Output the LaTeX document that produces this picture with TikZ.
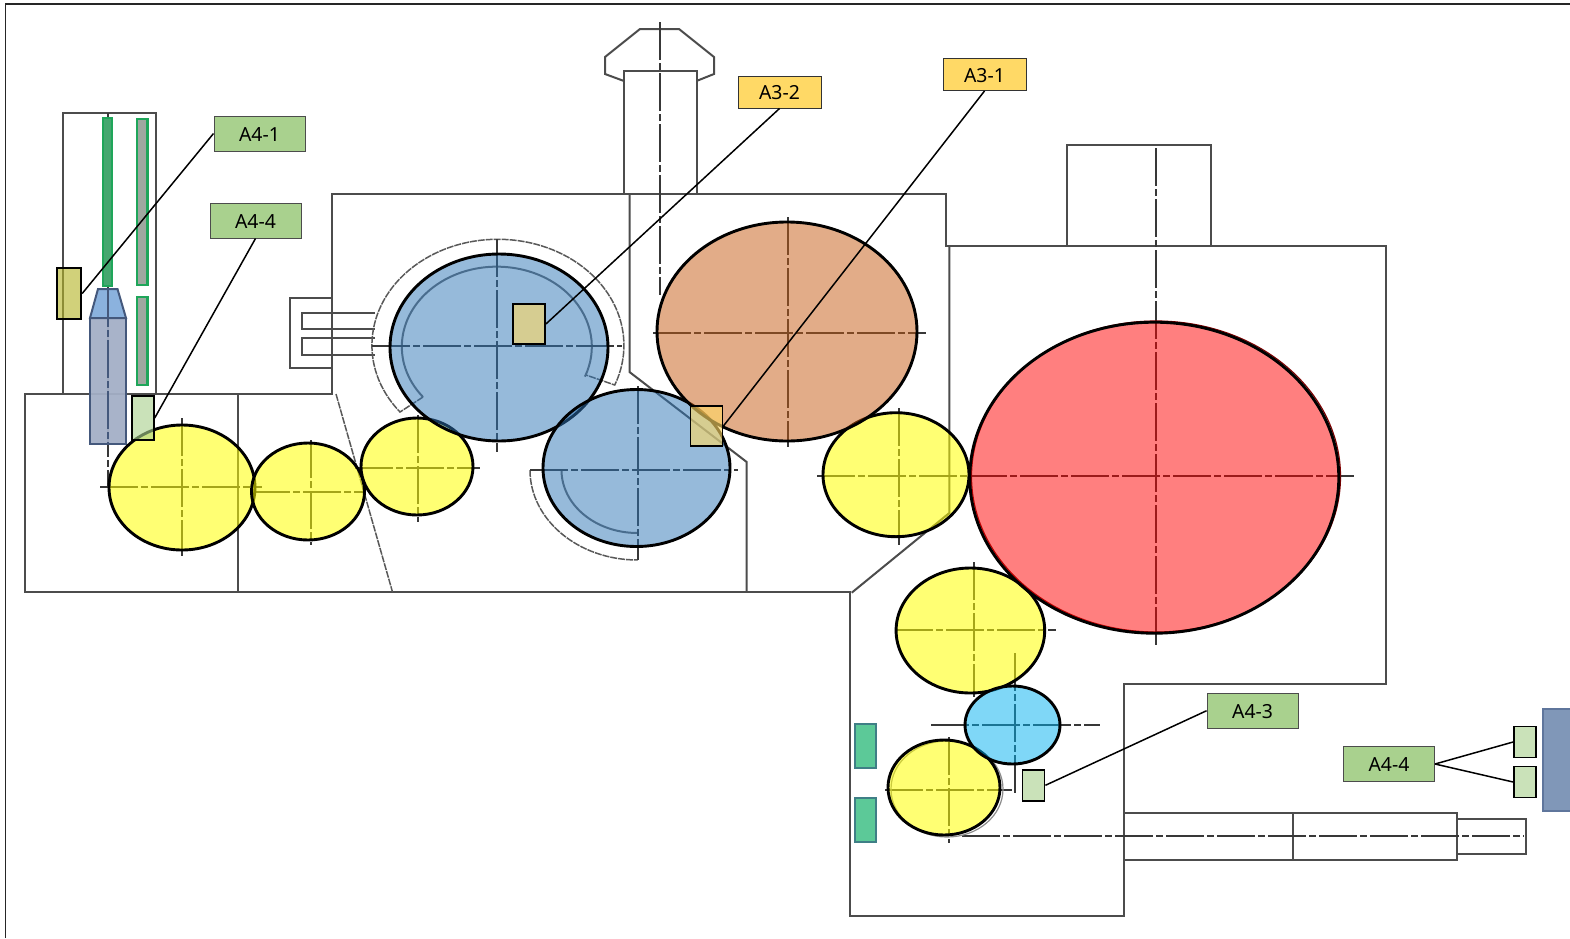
\documentclass[tikz,border=0pt]{standalone}
\usepackage{fontspec}
\setmainfont{Noto Sans}
\usetikzlibrary{positioning}
\definecolor{tagGreen}{HTML}{A9D18E}
\definecolor{tagAmber}{HTML}{FFD966}
\definecolor{padEdge}{HTML}{3F7F86}
\definecolor{padFill}{HTML}{5CC998}
\definecolor{stripEdge}{HTML}{1FA65A}
\definecolor{stripFill}{HTML}{9FA8A0}
\definecolor{lanceFill}{HTML}{A3AFC6}
\definecolor{lanceEdge}{HTML}{44587C}
\definecolor{tipFill}{HTML}{85AEDC}
\definecolor{slabFill}{HTML}{8097B8}
\definecolor{slabEdge}{HTML}{5F769C}
\definecolor{rollYellow}{HTML}{FFFF00}
\definecolor{rollBlue}{HTML}{2E75B6}
\definecolor{rollBrown}{HTML}{C55A11}
\definecolor{rollRed}{HTML}{FF0000}
\definecolor{rollCyan}{HTML}{00B0F0}
\tikzstyle{wall} = [draw=black!70, line width=1pt]
\tikzstyle{thinwall} = [draw=black!65, line width=0.75pt, dash pattern=on 3.5pt off 0.5pt]
\tikzstyle{centre} = [draw=black!78, line width=1pt, dash pattern=on 19pt off 1.5pt on 3.5pt off 1.5pt]
\tikzstyle{roll} = [draw=black, line width=1.45pt, fill opacity=0.5]
\tikzstyle{yellowroll} = [roll, fill=rollYellow, fill opacity=0.55]
\tikzstyle{ghost} = [draw=black!45, line width=0.6pt]
\tikzstyle{tag} = [draw=black!70, line width=0.5pt, inner sep=0pt, minimum width=45.5pt, minimum height=17.5pt, text height=7.9pt, fill=tagGreen, font=\fontsize{9.7pt}{10pt}\selectfont]
\tikzstyle{amber} = [tag, fill=tagAmber, draw=black!80, minimum width=41.5pt, minimum height=16pt]
\tikzstyle{sensor} = [draw=black, line width=0.9pt, inner sep=0pt, fill opacity=0.62]
\tikzstyle{pad} = [draw=padEdge, line width=0.9pt, fill=padFill, inner sep=0pt, minimum width=10.5pt, minimum height=22pt]
\tikzstyle{strip} = [draw=stripEdge, line width=1.2pt, fill=stripFill]
\tikzstyle{leader} = [draw=black, line width=0.75pt]

\begin{document}
\begin{tikzpicture}[x=0.5pt, y=-0.5pt]
    \useasboundingbox (0,0) rectangle (1570,938);

    % Page frame
    \draw [line width=0.8pt, black!85] (5.5,938) -- (5.5,4) -- (1570,4);

    % Machine outline
    \draw [wall] (63,394) -- (63,113) -- (155.5,113) -- (155.5,394);
    \draw [wall] (25.3,394) -- (331.7,394) -- (331.7,194) -- (946,194) -- (946,246) -- (1385.5,246)
        -- (1385.5,683.5) -- (1123.5,683.5) -- (1123.5,916) -- (849.8,916) -- (849.8,592) -- (25.3,592) -- cycle;
    \draw [wall] (238.3,394) -- (238.3,592);
    \draw [thinwall] (336,394) -- (392.5,592);
    \draw [wall] (629.5,194) -- (629.5,372) -- (746.7,462) -- (746.7,592);
    \draw [wall] (949.3,246) -- (949.3,513) -- (851.7,592.7);
    \draw [wall] (331.7,298) -- (290,298) -- (290,368) -- (331.7,368);
    \draw [wall] (375,312.5) -- (301.5,312.5) -- (301.5,329) -- (375,329);
    \draw [wall] (375,338) -- (301.5,338) -- (301.5,355) -- (375,355);

    % Top fittings
    \draw [wall] (624,194) -- (624,70.5) -- (696.5,70.5) -- (696.5,194);
    \draw [wall] (624,81) -- (605,74) -- (605,57) -- (640,29) -- (679,29) -- (714,57) -- (714,74) -- (696.5,81);
    \draw [wall] (1067.4,246) -- (1067.4,145) -- (1210.5,145) -- (1210.5,246);

    % Shaft
    \draw [wall] (1123.5,812.5) -- (1456.7,812.5) -- (1456.7,860) -- (1123.5,860);
    \draw [wall] (1293,812.5) -- (1293,860);
    \draw [wall] (1456.7,818.5) -- (1526,818.5) -- (1526,853.5) -- (1456.7,853.5);

    % Guards round the blue rolls
    \draw [thinwall] (423,397) -- (400,412)
        arc [start angle=141, end angle=382, x radius=126, y radius=106] -- (586,375);
    \draw [wall, black!60] (423,397) arc [start angle=141, end angle=382, x radius=95, y radius=80];
    \draw [thinwall] (530,470) arc [start angle=180, end angle=90, x radius=107.7, y radius=90];
    \draw [wall, black!60] (561.5,470) arc [start angle=180, end angle=90, x radius=76, y radius=63];

    % Centre lines
    \draw [centre] (660,22) -- (660,295);
    \draw [centre] (1156,148) -- (1156,645);
    \draw [centre] (100,487) -- (262,487);
    \draw [centre] (182,418) -- (182,556);
    \draw [centre] (252,491.5) -- (364,491.5);
    \draw [centre] (310.5,440) -- (310.5,545);
    \draw [centre] (355,467.5) -- (480,467.5);
    \draw [centre] (418,415) -- (418,522);
    \draw [centre] (372,346) -- (622,346);
    \draw [centre] (497,239) -- (497,452);
    \draw [centre] (530,470) -- (738,470);
    \draw [centre] (638,386) -- (638,560);
    \draw [centre] (653,333.3) -- (926,333.3);
    \draw [centre] (788,217) -- (788,447);
    \draw [centre] (817,476) -- (969,476);
    \draw [centre] (898.7,408) -- (898.7,545);
    \draw [centre] (969,476) -- (1354,476);
    \draw [centre] (895,630) -- (1055.6,630);
    \draw [centre] (974,562) -- (974,697);
    \draw [centre] (931,725) -- (1100,725);
    \draw [centre] (1015,653) -- (1015,795);
    \draw [centre] (885,790) -- (1011.7,790);
    \draw [centre] (949.3,737) -- (949.3,843);
    \draw [centre] (962,836) -- (1523.7,836);
    \draw [ghost] (947,789) ellipse [x radius=56, y radius=48];
    \draw [ghost, rollRed!50!black] (1156,476.5) ellipse [x radius=184.5, y radius=155.5];

    % Lance and strips
    \draw [centre] (108,113) -- (108,487);
    \draw [strip, fill=stripEdge!70!stripFill] (103,118) rectangle (112,286);
    \draw [strip] (137,119) rectangle (147.5,285);
    \draw [strip] (137,297) rectangle (147.5,385);
    \draw [draw=lanceEdge, line width=1pt, fill=lanceFill, fill opacity=0.95] (90,318) rectangle (126,444);
    \draw [draw=lanceEdge, line width=1pt, fill=tipFill, fill opacity=0.95] (90,318) -- (98,289) -- (117.5,289) -- (126,318) -- cycle;
    \draw [centre, lanceEdge] (108,289) -- (108,444);

    % Rolls
    \draw [yellowroll] (182,487.5) ellipse [x radius=73, y radius=62.5];
    \draw [yellowroll] (308,491.5) ellipse [x radius=56.5, y radius=48.5];
    \draw [yellowroll] (417,466.5) ellipse [x radius=56, y radius=48.5];
    \draw [yellowroll] (896,474.7) ellipse [x radius=73, y radius=62];
    \draw [yellowroll] (970.4,630.5) ellipse [x radius=74.3, y radius=62.5];
    \draw [yellowroll] (944,787.5) ellipse [x radius=56, y radius=47.5];
    \draw [roll, fill=rollBlue] (499,347.5) ellipse [x radius=109, y radius=93.5];
    \draw [roll, fill=rollBlue] (636.5,468) ellipse [x radius=93.5, y radius=78.5];
    \draw [roll, fill=rollBrown] (787,331.5) ellipse [x radius=130, y radius=109.5];
    \draw [roll, fill=rollRed] (1154.3,477.7) ellipse [x radius=184.5, y radius=155.5];
    \draw [roll, fill=rollCyan] (1012.5,725) ellipse [x radius=47.5, y radius=39];

    % Place the pads and the slab
    \node [pad] (padup) at (865.5,746.3) {};
    \node [pad] (paddown) at (865.5,819.8) {};
    \draw [draw=slabEdge, line width=1pt, fill=slabFill] (1542.6,709) rectangle (1575,810.7);

    % Place the sensors
    \node [sensor, fill={rgb,255:red,180;green,180;blue,40}, minimum width=12pt, minimum height=25.5pt] (sone) at (69.3,293.5) {};
    \node [sensor, fill=tagGreen, minimum width=11pt, minimum height=22pt] (sfour) at (142.8,418) {};
    \node [sensor, fill=tagAmber, minimum width=16pt, minimum height=20pt] (stwo) at (529,324) {};
    \node [sensor, fill=tagAmber, minimum width=16pt, minimum height=20pt] (sthree) at (706.5,426) {};
    \node [sensor, fill=tagGreen, minimum width=11pt, minimum height=15.5pt] (sfive) at (1033.5,785.3) {};
    \node [sensor, fill=tagGreen, minimum width=11pt, minimum height=15.5pt] (ssix) at (1525,742) {};
    \node [sensor, fill=tagGreen, minimum width=11pt, minimum height=15.5pt] (sseven) at (1525,782) {};

    % Place the tags
    \node [tag] (tagone) at (259.5,133.5) {A4-1};
    \node [tag] (tagfour) at (255.5,220.5) {A4-4};
    \node [amber] (tagtwo) at (779.5,92) {A3-2};
    \node [amber] (tagthree) at (984.5,74.5) {A3-1};
    \node [tag] (tagfive) at (1252.6,710.7) {A4-3};
    \node [tag] (tagsix) at (1389,764) {A4-4};

    % Connect the nodes
    \draw [leader] (tagone.west) -- (sone.east);
    \draw [leader] (tagfour.south) -- (sfour.east);
    \draw [leader] (tagtwo.south) -- (stwo.east);
    \draw [leader] (tagthree.south) -- (sthree.east);
    \draw [leader] (tagfive.west) -- (sfive.east);
    \draw [leader] (tagsix.east) -- (ssix.west);
    \draw [leader] (tagsix.east) -- (sseven.west);
\end{tikzpicture}
\end{document}
